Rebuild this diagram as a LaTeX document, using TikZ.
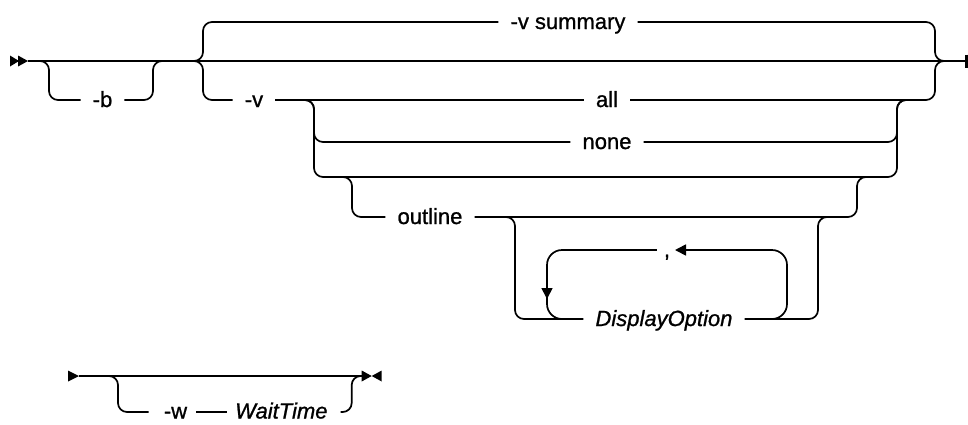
\documentclass[tikz,border=0pt]{standalone}
\usepackage{fontspec}
\setmainfont{Liberation Sans}
\newfontfamily\labfont{Liberation Sans}[FakeBold=1.0]
\usetikzlibrary{arrows.meta,calc}
\begin{document}
\begin{tikzpicture}[x=1pt,y=-1pt,
  rr/.style={line width=1.7pt, rounded corners=9pt},
  lp/.style={line width=1.7pt, rounded corners=15pt},
  lbl/.style={font=\labfont\fontsize{22}{26}\selectfont, inner xsep=12pt, inner ysep=0pt, text height=14pt, text depth=0pt},
  ilbl/.style={lbl, font=\labfont\fontsize{22}{26}\selectfont\itshape},
  tipl/.style={-{Triangle[length=11pt,width=11pt]}},
]
\useasboundingbox (0,0) rectangle (968,424);

% ---------- row 1 ----------
\fill (10,55.5) -- (19,61) -- (10,66.5) -- cycle;
\fill (18,55.5) -- (28,61) -- (18,66.5) -- cycle;
\coordinate (s) at (28,61);
\coordinate (e) at (965,61);
\draw[line width=1.7pt] (s) -- (e);
\draw[line width=3pt] (966.5,54.5) -- (966.5,68);

% optional -b
\node[lbl] (b) at (102.5,100) {-b};
\draw[rr] (31,61) -| (49,100) -- (b.west);
\draw[rr] (b.east) -| (153,61) -- (172,61);

% choice -v summary / -v ...
\node[lbl] (vs) at (568,22) {-v summary};
\node[lbl] (v) at (254,100) {-v};
\draw[rr] (185,61) -| (203,22) -- (vs.west);
\draw[rr] (185,61) -| (203,100) -- (v.west);
\draw[rr] (vs.east) -| (935,61) -- (955,61);

% all / none / [outline]
\node[lbl] (all) at (607,100) {all};
\node[lbl] (none) at (607,142) {none};
\draw[rr] (v.east) -- (all.west);
\draw[rr] (all.east) -| (935,61) -- (955,61);
\draw[rr] (296,100) -| (314,142) -- (none.west);
\draw[rr] (none.east) -| (897,100) -- (915,100);
\draw[rr] (296,100) -| (314,177) -| (897,100) -- (915,100);

% optional outline
\node[lbl] (ol) at (430,217) {outline};
\draw[rr] (334,177) -| (352,217) -- (ol.west);
\draw[rr] (ol.east) -| (857,177) -- (875,177);

% optional repeat of DisplayOption
\node[ilbl] (do) at (664,319) {DisplayOption};
\node[lbl, inner xsep=7pt] (cm) at (667,250) {,};
\draw[rr] (497,217) -| (515,319) -- (do.west);
\draw[rr] (do.east) -| (818,217) -- (838,217);
\draw[lp, tipl] (750,319) -| (787,250) -- (675,250);
\draw[lp, tipl] (cm.west) -| (547,299);
\draw[lp] (547,285) |- (580,319);

% ---------- row 2 ----------
\fill (68,370.5) -- (79,376) -- (68,381.5) -- cycle;
\coordinate (s2) at (79,376);
\node[lbl, inner xsep=0pt, text height=13pt] (w) at (175.5,412) {-w};
\node[ilbl, inner xsep=0pt, text height=13pt, anchor=west] (wt) at (235,412) {WaitTime};
\draw[rr] (100,376) -| (118,412) -- ([xshift=-15pt]w.west);
\draw[line width=1.7pt] ([xshift=9pt]w.east) -- ([xshift=-8pt]wt.west);
\path (wt.east) ++(24,0) coordinate (wv);
\coordinate (e2) at ($(wv |- s2)+(10,0)$);
\draw[rr] ([xshift=13pt]wt.east) -| (wv |- s2) -- (e2);
\draw[line width=1.7pt] (s2) -- (e2);
\fill ($(e2)+(0,-5.5)$) -- ($(e2)+(10,0)$) -- ($(e2)+(0,5.5)$) -- cycle;
\fill ($(e2)+(20,-5.5)$) -- ($(e2)+(10,0)$) -- ($(e2)+(20,5.5)$) -- cycle;
\end{tikzpicture}
\end{document}
